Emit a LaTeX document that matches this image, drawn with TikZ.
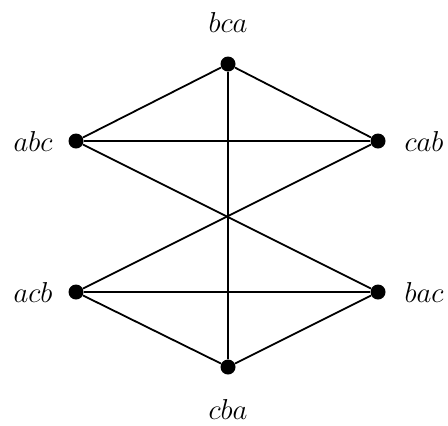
\documentclass[tikz,border=0pt]{standalone}
\usetikzlibrary{positioning}
\tikzset{
  vertex/.style={circle,fill=black,inner sep=0pt,minimum size=7.5pt},
  edge/.style={draw=black,line width=0.9pt},
  perm/.style={font=\Large},
}
\begin{document}
\begin{tikzpicture}[x=0.5pt,y=-0.5pt]
  \useasboundingbox (0,0) rectangle (448,425);
  % vertices
  \node[vertex] (bca) at (228,64) {};
  \node[vertex] (abc) at (76,141) {};
  \node[vertex] (cab) at (378,141) {};
  \node[vertex] (acb) at (76,292) {};
  \node[vertex] (bac) at (378,292) {};
  \node[vertex] (cba) at (228,367) {};
  % labels
  \node[perm] (lbca) at (228,22) {$bca$};
  \node[perm] (labc) at (33,141) {$abc$};
  \node[perm] (lcab) at (424,141) {$cab$};
  \node[perm] (lacb) at (33,292) {$acb$};
  \node[perm] (lbac) at (424,292) {$bac$};
  \node[perm] (lcba) at (228,409) {$cba$};
  % edges
  \draw[edge] (bca) -- (abc) -- (cab) -- (bca) -- (cba);
  \draw[edge] (acb) -- (bac) -- (cba) -- (acb);
  \draw[edge] (abc) -- (bac);
  \draw[edge] (cab) -- (acb);
\end{tikzpicture}
\end{document}
